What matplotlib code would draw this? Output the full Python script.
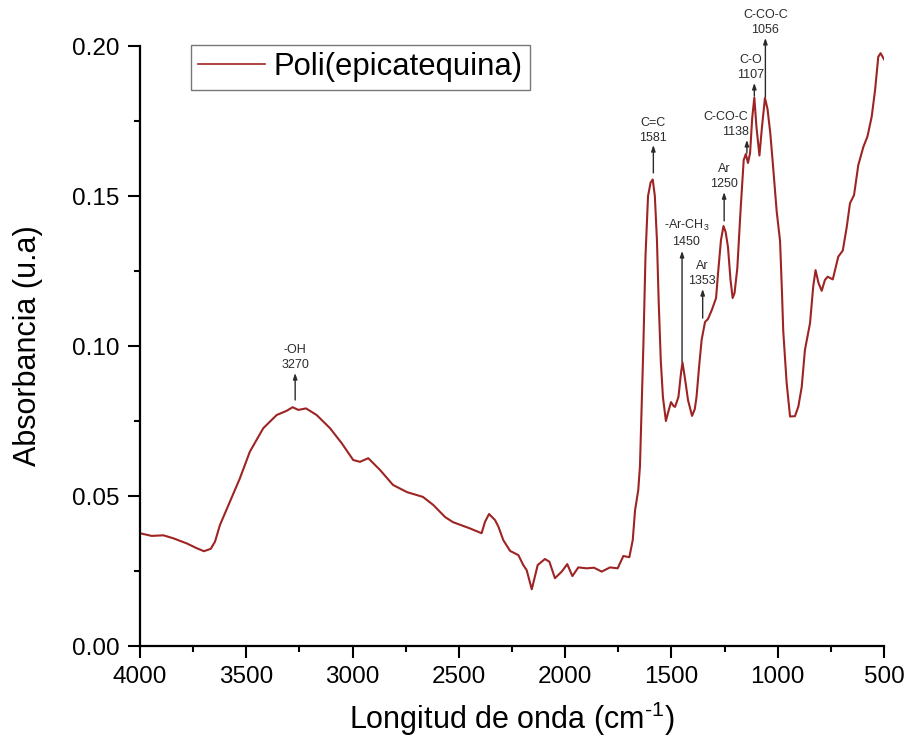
import matplotlib
matplotlib.use("Agg")
import matplotlib.pyplot as plt
from matplotlib.ticker import MultipleLocator

plt.rcParams['font.family'] = ['Liberation Sans', 'DejaVu Sans']
plt.rcParams['mathtext.default'] = 'regular'

# === DATA ===
wavenumber = [4000, 3945, 3890, 3843, 3780, 3733, 3699, 3667, 3647, 3624,
              3577, 3530, 3483, 3420, 3357, 3310, 3282, 3255, 3219, 3169,
              3106, 3051, 2997, 2965, 2926, 2871, 2810, 2744, 2669, 2620,
              2565, 2528, 2448, 2393, 2377, 2358, 2330, 2314, 2291, 2259,
              2220, 2197, 2181, 2157, 2129, 2095, 2074, 2048, 2016, 1990,
              1966, 1938, 1899, 1864, 1828, 1789, 1753, 1726, 1698, 1682,
              1671, 1656, 1648, 1640, 1632, 1622, 1610, 1598, 1588,
              1578, 1568, 1560, 1550, 1540, 1526, 1515, 1502, 1490, 1483,
              1467, 1455, 1448, 1438, 1422, 1403, 1390, 1382, 1370, 1358,
              1342, 1328, 1310, 1290, 1281, 1267, 1255, 1245, 1234, 1222,
              1212, 1203, 1190, 1175, 1160, 1150, 1140, 1130, 1120, 1110,
              1100, 1086, 1074, 1060, 1048, 1035, 1022, 1005, 989, 980,
              974, 958, 942, 919, 903, 887, 872, 848, 833, 822,
              808, 793, 778, 765, 741, 715, 694, 675, 660, 641,
              621, 597, 578, 558, 542, 527, 516, 500]
absorbance = [0.0376, 0.0367, 0.0369, 0.0359, 0.0342, 0.0326, 0.0316, 0.0324, 0.0348, 0.0403,
              0.0481, 0.0559, 0.0648, 0.0726, 0.0770, 0.0784, 0.0796, 0.0787, 0.0792, 0.0770,
              0.0726, 0.0676, 0.0620, 0.0614, 0.0626, 0.0587, 0.0537, 0.0513, 0.0497, 0.0470,
              0.0430, 0.0413, 0.0392, 0.0376, 0.0414, 0.0440, 0.0420, 0.0398, 0.0353, 0.0317,
              0.0303, 0.0270, 0.0253, 0.0189, 0.0270, 0.0290, 0.0281, 0.0226, 0.0248, 0.0273,
              0.0233, 0.0262, 0.0259, 0.0261, 0.0248, 0.0262, 0.0259, 0.0300, 0.0296, 0.0353,
              0.0453, 0.0520, 0.0600, 0.0800, 0.1000, 0.1300, 0.1500, 0.1545, 0.1555,
              0.1500, 0.1350, 0.1150, 0.0950, 0.0830, 0.0750, 0.0780, 0.0813, 0.0800, 0.0797,
              0.0830, 0.0910, 0.0945, 0.0900, 0.0820, 0.0767, 0.0790, 0.0830, 0.0930, 0.1020,
              0.1080, 0.1090, 0.1120, 0.1160, 0.1240, 0.1353, 0.1400, 0.1380, 0.1330, 0.1220,
              0.1160, 0.1177, 0.1260, 0.1450, 0.1620, 0.1640, 0.1610, 0.1643, 0.1760, 0.1828,
              0.1730, 0.1635, 0.1730, 0.1827, 0.1790, 0.1710, 0.1600, 0.1450, 0.1350, 0.1180,
              0.1050, 0.0877, 0.0765, 0.0766, 0.0798, 0.0864, 0.0987, 0.1076, 0.1198, 0.1253,
              0.1210, 0.1184, 0.1220, 0.1231, 0.1222, 0.1298, 0.1318, 0.1398, 0.1476, 0.1503,
              0.1603, 0.1664, 0.1698, 0.1764, 0.1853, 0.1964, 0.1976, 0.1956]

# peak labels: text, arrow x, arrow tail, arrow head, text x, text bottom, alignment
peak_labels = ["-OH\n3270", "C=C\n1581", "-Ar-CH$_3$\n1450", "Ar\n1353", "Ar\n1250",
               "C-CO-C\n1138", "C-O\n1107", "C-CO-C\n1056"]
peak_x = [3270, 1585, 1450, 1353, 1252, 1145, 1110, 1058]
arrow_tail = [0.0820, 0.1577, 0.0947, 0.1093, 0.1417, 0.1643, 0.1833, 0.1830]
arrow_head = [0.0910, 0.1670, 0.1317, 0.1190, 0.1513, 0.1687, 0.1877, 0.2027]
text_x = [3270, 1585, 1430, 1355, 1253, 1137, 1127, 1058]
text_bottom = [0.0918, 0.1675, 0.1327, 0.1198, 0.1520, 0.1695, 0.1885, 0.2033]
text_ha = ['center', 'center', 'center', 'center', 'center', 'right', 'center', 'center']

line_color = '#9e2424'

fig = plt.figure(figsize=(9.09, 7.47), dpi=100)
ax = fig.add_axes([0.154, 0.1352, 0.8185, 0.8032])

ax.plot(wavenumber, absorbance, color=line_color, lw=1.5, label='Poli(epicatequina)')

for lab, x, t0, t1, tx, tb, ha in zip(peak_labels, peak_x, arrow_tail, arrow_head,
                                      text_x, text_bottom, text_ha):
    ax.annotate('', xy=(x, t1), xytext=(x, t0),
                arrowprops=dict(arrowstyle='-|>,head_length=0.35,head_width=0.12',
                                color='#2b2b2b', lw=1.0, shrinkA=0, shrinkB=0),
                annotation_clip=False)
    ax.text(tx, tb, lab, ha=ha, va='bottom', multialignment=ha, fontsize=9,
            color='#2b2b2b', linespacing=1.3, clip_on=False)

ax.set_xlim(4000, 500)
ax.set_ylim(0, 0.20)
ax.xaxis.set_major_locator(MultipleLocator(500))
ax.xaxis.set_minor_locator(MultipleLocator(250))
ax.yaxis.set_major_locator(MultipleLocator(0.05))
ax.yaxis.set_minor_locator(MultipleLocator(0.025))
ax.yaxis.set_major_formatter(plt.FormatStrFormatter('%.2f'))

for s in ['top', 'right']:
    ax.spines[s].set_visible(False)
for s in ['left', 'bottom']:
    ax.spines[s].set_linewidth(1.6)

ax.tick_params(which='major', length=8.5, width=1.5, labelsize=17.5, pad=6)
ax.tick_params(which='minor', length=4.3, width=1.5)

ax.set_xlabel('Longitud de onda (cm$^{\u2010 1}$)', fontsize=22, labelpad=8)
ax.set_ylabel('Absorbancia (u.a)', fontsize=22, labelpad=21)

leg = ax.legend(loc='upper left', bbox_to_anchor=(0.068, 1.002), borderaxespad=0,
                fontsize=22.3, fancybox=False, handlelength=2.15, handletextpad=0.3,
                borderpad=0.24)
leg.get_frame().set_edgecolor('#555555')
leg.get_frame().set_linewidth(1.0)
leg.get_lines()[0].set_linewidth(1.2)

plt.savefig('out.png', dpi=100)
